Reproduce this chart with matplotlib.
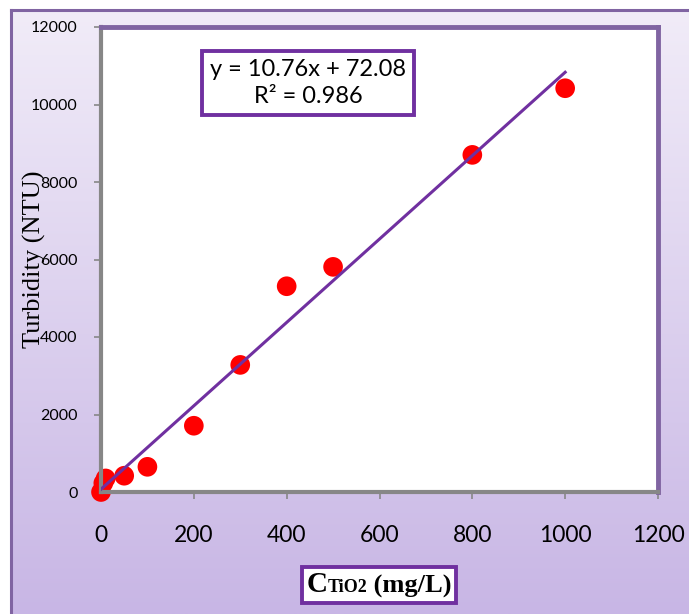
import numpy as np
import matplotlib
matplotlib.use('Agg')
import matplotlib.pyplot as plt
from matplotlib.offsetbox import TextArea, HPacker, AnchoredOffsetbox

# TiO2 concentration (mg/L) vs measured turbidity (NTU)
conc = [0, 5, 10, 50, 100, 200, 300, 400, 500, 800, 1000]
turbidity = [0, 230, 350, 420, 650, 1710, 3280, 5310, 5810, 8700, 10420]

# linear fit shown on the chart
slope = 10.76
intercept = 72.08
r2 = 0.986

x_ticks = [0, 200, 400, 600, 800, 1000, 1200]
y_ticks = [0, 2000, 4000, 6000, 8000, 10000, 12000]

W, H = 689, 614
fig = plt.figure(figsize=(W / 100, H / 100), dpi=100)

# lavender gradient panel behind the plot
bg = fig.add_axes([11 / W, 0, 1 - 11 / W, 1 - 10 / H], zorder=0)
grad = np.linspace(0, 1, 256).reshape(-1, 1)
top_c = np.array([0xf1, 0xec, 0xf8]) / 255
bot_c = np.array([0xc8, 0xb6, 0xe5]) / 255
img = top_c + (bot_c - top_c) * grad[:, :, None]
bg.imshow(img, aspect='auto', extent=[0, 1, 0, 1])
bg.set_xlim(0, 1)
bg.set_ylim(0, 1)
bg.set_xticks([])
bg.set_yticks([])
for s in ['right', 'bottom']:
    bg.spines[s].set_visible(False)
for s in ['left', 'top']:
    bg.spines[s].set_color('#8064a2')
    bg.spines[s].set_linewidth(2.2)

ax = fig.add_axes([101 / W, 1 - 492 / H, (658 - 101) / W, (492 - 27) / H], zorder=1)
ax.set_facecolor('white')

xs = np.array([0, 1000])
ax.plot(xs, slope * xs + intercept, color='#7030a0', lw=2.2, zorder=3)
ax.scatter(conc, turbidity, s=200, color='#ff0000', edgecolors='none', zorder=2,
           clip_on=False)

ax.set_xlim(0, 1200)
ax.set_ylim(0, 12000)
ax.set_xticks(x_ticks)
ax.set_yticks(y_ticks)
ax.set_xticklabels([str(v) for v in x_ticks], fontsize=16.5, family='Lato')
ax.set_yticklabels([str(v) for v in y_ticks], fontsize=11.5, family='Lato')
ax.tick_params(axis='x', direction='out', length=5, width=1.2, color='#878787', pad=19)
ax.tick_params(axis='y', direction='out', length=5, width=1.2, color='#878787', pad=12)

for s in ['left', 'bottom']:
    ax.spines[s].set_color('#878787')
    ax.spines[s].set_linewidth(3)
for s in ['top', 'right']:
    ax.spines[s].set_color('#8064a2')
    ax.spines[s].set_linewidth(3.5)

# axis title sits over the tick numbers, as in the original layout
fig.text(34 / W, 1 - 259 / H, 'Turbidity (NTU)', rotation=90, ha='center', va='center',
         fontsize=19, family='Liberation Serif', zorder=5)

# equation box
fig.text(308 / W, 1 - 83 / H, f'y = {slope}x + {intercept}\nR² = {r2}', ha='center',
         va='center', fontsize=17, family='Lato', linespacing=1.35, zorder=5,
         bbox=dict(boxstyle='square,pad=0.35', fc='white', ec='#7030a0', lw=2.8))

# x-axis label with small "TiO2"
serif = dict(family='Liberation Serif', weight='bold', color='black')
parts = [TextArea('C', textprops=dict(size=21, **serif)),
         TextArea('TiO2', textprops=dict(size=13, **serif)),
         TextArea(' (mg/L)', textprops=dict(size=19, **serif))]
pack = HPacker(children=parts, align='baseline', pad=0, sep=0)
box = AnchoredOffsetbox(loc='center', child=pack, pad=0.35, frameon=True,
                        bbox_to_anchor=(379 / W, 1 - 585 / H),
                        bbox_transform=fig.transFigure, borderpad=0)
box.patch.set_edgecolor('#7030a0')
box.patch.set_linewidth(2.8)
box.patch.set_facecolor('white')
box.patch.set_boxstyle('square', pad=0)
box.set_zorder(5)
fig.add_artist(box)

fig.savefig('out.png', dpi=100)
